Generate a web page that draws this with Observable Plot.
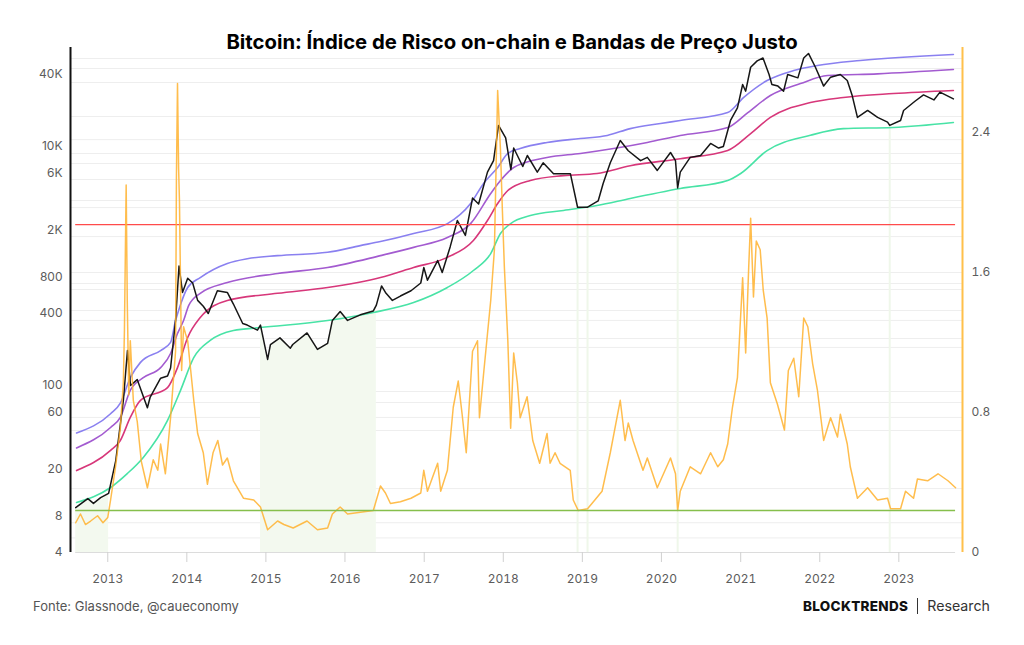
<!DOCTYPE html>
<html><head><meta charset="utf-8">
<script src="https://cdn.jsdelivr.net/npm/d3@7"></script>
<script src="https://cdn.jsdelivr.net/npm/@observablehq/plot@0.6"></script>
<style>
body{margin:0;background:#fff;font-family:Inter,"Noto Sans",sans-serif;}
#wrap{position:relative;width:1024px;height:645px;overflow:hidden;background:#fff;}
#wrap svg{position:absolute;left:0;top:0;}
.title{position:absolute;left:0;width:1024px;top:30px;text-align:center;font-weight:700;font-size:20.3px;color:#000;line-height:24px;}
.src{position:absolute;left:33px;top:598px;font-size:13px;color:#555;}
.brand{position:absolute;left:803px;top:597px;font-size:13.5px;color:#111;white-space:nowrap;}
.brand b{font-weight:800;letter-spacing:0.3px;}
.brand .sep{display:inline-block;width:1px;height:16px;background:#333;vertical-align:-3px;margin:0 9px;}
.brand span.r{color:#333;font-weight:400;font-size:14.2px;}
</style></head>
<body><div id="wrap">
<div class="title">Bitcoin: Índice de Risco on-chain e Bandas de Preço Justo</div>
<div class="src">Fonte: Glassnode, @caueconomy</div>
<div class="brand"><b>BLOCKTRENDS</b><span class="sep"></span><span class="r">Research</span></div>
</div>
<script>
// ---------- data ----------
const priceDates = ["2012-08-06","2012-10-01","2012-10-27","2012-11-29","2013-01-05","2013-02-07","2013-03-14","2013-04-02","2013-04-16","2013-05-17","2013-07-03","2013-07-16","2013-09-02","2013-10-04","2013-10-18","2013-11-10","2013-11-26","2013-12-12","2014-01-05","2014-01-28","2014-02-20","2014-03-18","2014-04-10","2014-05-22","2014-07-07","2014-08-04","2014-09-16","2014-10-07","2014-11-23","2014-12-07","2015-01-09","2015-01-22","2015-03-07","2015-04-24","2015-05-05","2015-07-10","2015-08-27","2015-10-13","2015-11-04","2015-12-10","2016-01-13","2016-03-12","2016-05-11","2016-05-25","2016-06-18","2016-07-06","2016-08-07","2016-09-13","2016-11-01","2016-12-16","2016-12-30","2017-01-16","2017-03-04","2017-03-25","2017-05-01","2017-06-03","2017-07-10","2017-08-12","2017-09-09","2017-10-20","2017-11-17","2017-12-10","2018-01-12","2018-02-05","2018-02-18","2018-04-01","2018-04-22","2018-06-07","2018-07-04","2018-08-21","2018-11-07","2018-12-10","2019-01-25","2019-03-15","2019-04-07","2019-05-10","2019-06-25","2019-08-01","2019-09-27","2019-10-28","2019-12-13","2020-02-12","2020-03-06","2020-03-16","2020-03-28","2020-05-13","2020-06-30","2020-08-15","2020-09-21","2020-10-13","2020-11-15","2020-12-17","2021-01-10","2021-01-24","2021-02-16","2021-03-18","2021-04-14","2021-05-12","2021-05-25","2021-06-22","2021-07-18","2021-08-06","2021-09-22","2021-10-19","2021-11-10","2021-12-12","2022-01-19","2022-02-20","2022-04-06","2022-05-08","2022-05-30","2022-06-24","2022-08-10","2022-09-25","2022-11-10","2022-11-20","2023-01-09","2023-01-23","2023-03-18","2023-04-25","2023-06-12","2023-07-10","2023-09-10"];
const priceValues = [9.5,11.3,10.3,11.5,12.5,23.5,75,196,100,112,65,80,115,120,140,350,1000,600,790,720,515,460,400,620,600,480,330,320,290,320,165,220,250,205,220,275,200,225,350,415,350,390,420,470,680,600,515,560,620,720,970,760,1110,880,1450,2400,1800,3700,3300,6100,7600,15000,11800,6400,9700,6800,8400,6100,7300,5900,5900,3100,3100,3500,4900,7300,11200,9200,7600,8100,6300,8900,7600,4500,6100,8100,8400,10600,9700,10000,16500,21000,33000,29000,46000,52000,55000,40000,33000,32000,29000,40000,37500,55000,60000,46000,32000,38000,40000,35600,27000,17500,20000,17500,16000,15000,16500,20000,24000,27000,24500,28500,25000];

const band1Dates = ["2012-08-10","2013-01-14","2013-02-28","2013-04-15","2013-06-01","2013-09-02","2013-10-18","2013-11-10","2013-11-24","2014-01-05","2014-03-04","2014-07-07","2014-10-07","2015-02-24","2015-10-13","2016-03-12","2016-06-13","2016-11-13","2017-04-18","2017-08-03","2017-10-02","2017-12-06","2018-01-22","2018-03-20","2018-07-22","2018-12-23","2019-04-26","2019-08-10","2019-12-28","2020-03-28","2020-11-02","2021-01-15","2021-05-03","2021-09-03","2021-12-21","2022-07-07","2023-09-10"];
const band1Values = [40,58,71,116,156,196,229,349,424,660,800,1050,1150,1220,1300,1480,1600,1870,2260,3330,4900,6670,8730,9600,10800,11650,12360,14100,15560,16500,19200,25700,35600,43200,47500,52400,58800];

const band2Dates = ["2012-08-10","2013-01-14","2013-02-28","2013-04-15","2013-06-14","2013-09-02","2013-10-18","2013-11-19","2013-12-17","2014-01-10","2014-03-04","2014-07-07","2015-02-24","2015-10-13","2016-06-13","2016-11-13","2017-04-18","2017-08-03","2017-11-04","2017-12-19","2018-02-18","2018-07-22","2018-12-23","2019-05-25","2019-10-28","2020-03-28","2020-11-02","2021-02-03","2021-05-18","2021-10-04","2022-02-06","2022-09-25","2023-09-10"];
const band2Values = [30,44.5,54,91,116,141,185,272,349,467,590,726,865,970,1220,1430,1730,2260,4040,5190,6670,8080,8730,9600,10800,12360,14400,19200,26700,33600,39200,40500,44000];

const band3Dates = ["2012-08-10","2013-01-14","2013-02-28","2013-04-15","2013-06-01","2013-10-04","2013-11-19","2014-01-05","2014-03-04","2014-07-07","2015-02-24","2015-10-13","2016-06-13","2016-11-13","2017-04-18","2017-08-16","2017-10-20","2017-12-06","2018-01-22","2018-05-06","2018-10-06","2019-03-10","2019-08-10","2020-03-28","2020-11-02","2021-02-16","2021-05-18","2021-11-19","2022-04-20","2022-12-07","2023-09-10"];
const band3Values = [19.4,28.6,34.6,54,75,96,141,252,370,514,590,660,800,970,1180,1633,2400,3330,4280,5190,5700,5940,6900,7900,9240,12800,17500,23300,25700,27700,29400];

const band4Dates = ["2012-08-10","2013-01-14","2013-04-01","2013-06-14","2013-10-04","2013-12-03","2014-02-02","2014-04-19","2014-08-04","2014-12-07","2015-10-13","2016-05-11","2016-11-13","2017-04-18","2017-08-16","2017-11-04","2017-12-19","2018-02-04","2018-05-06","2018-10-06","2019-03-10","2019-08-10","2020-03-28","2020-11-02","2021-01-01","2021-05-03","2021-11-19","2022-04-20","2022-12-07","2023-09-10"];
const band4Values = [10.5,14,18.3,25,51,91,171,238,288,305,349,408,494,660,916,1270,1870,2265,2640,2910,3200,3670,4450,5190,5940,9240,12400,14100,14400,15850];

const riskDates = ["2012-08-06","2012-08-28","2012-09-20","2012-10-14","2012-11-15","2012-12-10","2013-01-01","2013-01-14","2013-02-06","2013-02-28","2013-03-14","2013-03-19","2013-03-27","2013-04-01","2013-04-08","2013-04-15","2013-04-29","2013-05-17","2013-06-05","2013-07-03","2013-07-30","2013-08-20","2013-09-02","2013-09-24","2013-10-18","2013-11-10","2013-11-14","2013-11-19","2013-11-24","2013-11-28","2013-12-08","2013-12-17","2013-12-26","2014-01-05","2014-02-02","2014-02-20","2014-03-18","2014-04-06","2014-05-02","2014-05-24","2014-06-15","2014-07-07","2014-08-04","2014-09-20","2014-11-06","2014-12-07","2015-01-09","2015-02-24","2015-03-25","2015-05-07","2015-07-10","2015-08-27","2015-10-13","2015-11-04","2015-12-10","2016-01-13","2016-03-12","2016-05-11","2016-06-13","2016-07-06","2016-07-29","2016-09-13","2016-11-01","2016-12-16","2016-12-30","2017-01-16","2017-03-04","2017-03-18","2017-04-18","2017-05-15","2017-06-07","2017-06-25","2017-07-14","2017-08-12","2017-09-04","2017-09-13","2017-10-02","2017-10-20","2017-11-04","2017-11-21","2017-12-06","2017-12-19","2017-12-28","2018-01-06","2018-01-22","2018-02-04","2018-02-18","2018-03-07","2018-03-20","2018-04-21","2018-05-17","2018-06-18","2018-07-22","2018-08-05","2018-08-28","2018-09-20","2018-11-06","2018-11-20","2018-12-13","2019-01-25","2019-02-21","2019-04-02","2019-05-10","2019-06-25","2019-07-17","2019-08-01","2019-08-23","2019-10-08","2019-10-28","2019-12-13","2020-02-12","2020-03-06","2020-03-16","2020-03-28","2020-05-13","2020-06-30","2020-08-15","2020-09-17","2020-10-13","2020-11-02","2020-11-24","2020-12-17","2021-01-10","2021-01-24","2021-02-07","2021-02-16","2021-03-01","2021-03-14","2021-04-01","2021-04-15","2021-05-03","2021-05-18","2021-06-19","2021-07-22","2021-08-09","2021-09-03","2021-09-26","2021-10-19","2021-11-07","2021-11-29","2021-12-21","2022-01-19","2022-02-20","2022-03-24","2022-04-06","2022-05-08","2022-05-22","2022-06-24","2022-08-10","2022-09-25","2022-11-10","2022-11-24","2023-01-09","2023-02-01","2023-03-10","2023-03-28","2023-05-14","2023-07-01","2023-08-16","2023-09-20"];
const riskValues = [0.17,0.22,0.16,0.18,0.21,0.17,0.20,0.30,0.49,0.71,0.97,1.27,2.10,1.44,0.90,1.21,0.87,0.75,0.52,0.37,0.53,0.47,0.62,0.45,0.77,1.15,2.14,2.68,2.20,2.01,1.04,1.29,1.25,1.21,0.87,0.68,0.57,0.39,0.57,0.64,0.50,0.54,0.41,0.31,0.30,0.26,0.13,0.18,0.16,0.14,0.18,0.13,0.14,0.22,0.26,0.22,0.23,0.24,0.38,0.34,0.28,0.29,0.31,0.34,0.47,0.35,0.51,0.35,0.47,0.83,0.98,0.79,0.57,1.15,1.21,0.77,1.02,1.25,1.44,1.73,2.64,2.30,1.95,1.63,1.21,0.71,1.14,0.97,0.77,0.89,0.64,0.51,0.68,0.51,0.57,0.51,0.47,0.30,0.24,0.25,0.29,0.35,0.57,0.87,0.64,0.74,0.64,0.47,0.54,0.37,0.54,0.45,0.24,0.35,0.49,0.45,0.57,0.49,0.53,0.62,0.83,1.00,1.57,1.14,1.63,1.91,1.46,1.78,1.73,1.50,1.34,0.97,0.85,0.70,1.04,1.11,0.89,1.34,1.29,1.08,0.93,0.64,0.77,0.66,0.79,0.62,0.49,0.31,0.37,0.30,0.31,0.25,0.25,0.35,0.31,0.42,0.41,0.45,0.41,0.37];

const riskHigh = 1.874;   // red threshold (right axis)
const riskLow = 0.24;     // green threshold (right axis)

const shadeStarts = ["2012-08-06","2014-12-05"];
const shadeEnds   = ["2013-01-10","2016-05-26"];
const narrowShadeDates = ["2018-12-10","2019-01-25","2020-03-16","2022-11-20"];
const narrowShadeTops  = [3100,3100,4500,15000];

const leftTicks = [4,8,20,60,100,400,800,2000,6000,10000,40000];
const leftTickLabels = ["4","8","20","60","100","400","800","2K","6K","10K","40K"];
const riskTicks = [0,0.8,1.6,2.4];
const riskTickLabels = ["0","0.8","1.6","2.4"];
const years = [2013,2014,2015,2016,2017,2018,2019,2020,2021,2022,2023];
const gridValues = [54400,44900,34300,17800,11400,8730,7200,5290,3530,3080,1760,881,713,635,424,350,247,208,89,72,54,42,13.7,7.1,5.3];

// ---------- build ----------
const parse = d3.utcParse("%Y-%m-%d");
const toSeries = (ds, vs) => ds.map((d, i) => ({date: parse(d), value: vs[i]}));
const price = toSeries(priceDates, priceValues);
const band1 = toSeries(band1Dates, band1Values);
const band2 = toSeries(band2Dates, band2Values);
const band3 = toSeries(band3Dates, band3Values);
const band4 = toSeries(band4Dates, band4Values);
const risk = toSeries(riskDates, riskValues);
const shade = [];
shadeStarts.forEach((s, k) => {
  const a = parse(s), b = parse(shadeEnds[k]);
  price.filter(p => p.date >= a && p.date <= b).forEach(p => shade.push({...p, seg: k}));
});
const narrow = toSeries(narrowShadeDates, narrowShadeTops);
const yearTicks = years.map(y => new Date(Date.UTC(y, 0, 1)));
const xDomain = [parse("2012-07-13"), parse("2023-10-22")];
const dataStart = parse("2012-08-06"), dataEnd = parse("2023-09-20");
const leftLabels = leftTicks.map((v, i) => ({x: xDomain[0], y: v, t: leftTickLabels[i]}));

const W = 1024, H = 645, ML = 70, MR = 62, MT = 47, MB = 93;
const common = {width: W, height: H, marginLeft: ML, marginRight: MR, marginTop: MT, marginBottom: MB,
  style: {background: "transparent", fontFamily: "Inter, 'Noto Sans', sans-serif", fontSize: "12px", color: "#5c5c5c"}};

const p1 = Plot.plot({
  ...common,
  x: {type: "utc", domain: xDomain},
  y: {type: "log", domain: [4, 67300], axis: null},
  marks: [
    Plot.ruleY(gridValues, {stroke: "#eeeeee", strokeWidth: 1}),
    Plot.areaY(shade, {x: "date", y1: 4, y2: "value", z: "seg", fill: "#f3f9ef", fillOpacity: 1}),
    Plot.ruleX(narrow, {x: "date", y1: 4, y2: "value", stroke: "#eff7ea", strokeWidth: 2}),
    Plot.ruleY([{y: 4, x1: dataStart, x2: dataEnd}], {y: "y", x1: "x1", x2: "x2", stroke: "#dcdcdc"}),
    Plot.line(band4, {x: "date", y: "value", stroke: "#48e3a6", strokeWidth: 1.6, curve: "monotone-x"}),
    Plot.line(band3, {x: "date", y: "value", stroke: "#d7377a", strokeWidth: 1.6, curve: "monotone-x"}),
    Plot.line(band2, {x: "date", y: "value", stroke: "#a35bd0", strokeWidth: 1.6, curve: "monotone-x"}),
    Plot.line(band1, {x: "date", y: "value", stroke: "#8a80f0", strokeWidth: 1.6, curve: "monotone-x"}),
    Plot.line(price, {x: "date", y: "value", stroke: "#161616", strokeWidth: 1.5}),
    Plot.axisX({ticks: yearTicks, tickFormat: d3.utcFormat("%Y"), tickSize: 10, tickPadding: 12, stroke: "#d0d0d0", label: null}),
    Plot.text(leftLabels, {x: "x", y: "y", text: "t", dx: -8, textAnchor: "end", fill: "#5c5c5c"}),
    Plot.ruleX([xDomain[0]], {stroke: "#111", strokeWidth: 2})
  ]
});

const p2 = Plot.plot({
  ...common,
  x: {type: "utc", domain: xDomain, axis: null},
  y: {domain: [0, 2.886], axis: null},
  marks: [
    Plot.ruleY([{y: riskHigh, x1: dataStart, x2: dataEnd}], {y: "y", x1: "x1", x2: "x2", stroke: "#ff4b4b", strokeWidth: 1.4}),
    Plot.line(risk, {x: "date", y: "value", stroke: "#ffb22e", strokeWidth: 1.5, strokeOpacity: 0.85}),
    Plot.ruleY([{y: riskLow, x1: dataStart, x2: dataEnd}], {y: "y", x1: "x1", x2: "x2", stroke: "#86bf4c", strokeWidth: 1.6}),
    Plot.axisY({anchor: "right", ticks: riskTicks, tickFormat: d => riskTickLabels[riskTicks.indexOf(d)], tickSize: 0, tickPadding: 9, label: null}),
    Plot.ruleX([xDomain[1]], {stroke: "#ffc04a", strokeWidth: 2})
  ]
});

const wrap = document.getElementById("wrap");
wrap.insertBefore(p2, wrap.firstChild);
wrap.insertBefore(p1, wrap.firstChild);
</script>
</body></html>
